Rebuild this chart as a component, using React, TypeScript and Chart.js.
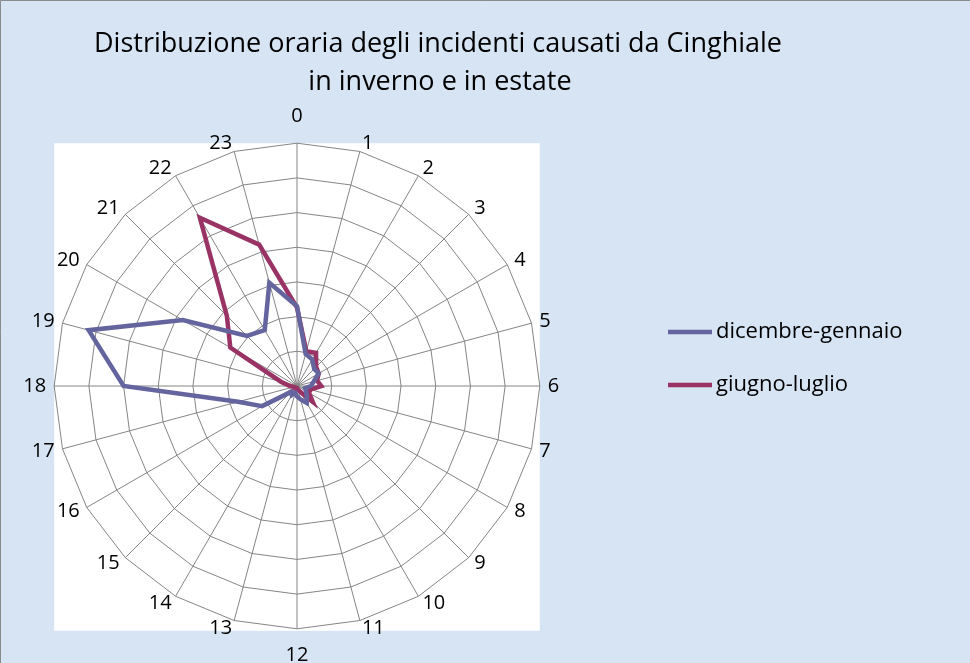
import { useEffect, useRef } from 'react';
import { Chart, registerables } from 'chart.js';

Chart.register(...registerables);

const hourLabels = ['0', '1', '2', '3', '4', '5', '6', '7', '8', '9', '10', '11', '12', '13', '14', '15', '16', '17', '18', '19', '20', '21', '22', '23'];
const winterValues = [11.5, 4.8, 4.4, 3.5, 3.6, 2.5, 2.0, 1.2, 1.5, 2.0, 2.8, 2.0, 1.5, 1.0, 1.5, 1.2, 5.8, 8.8, 25.0, 31.1, 19.0, 10.2, 9.3, 15.4];
const summerValues = [11.3, 5.2, 5.5, 3.9, 3.6, 3.0, 3.5, 2.0, 2.0, 3.2, 1.0, 0.5, 0.3, 0.3, 0.3, 0.5, 0.5, 0.5, 1.0, 2.4, 11.1, 14.3, 28.0, 21.1];
const seriesNames = ['dicembre-gennaio', 'giugno-luglio'];
const seriesColors = ['#64649f', '#993366'];
const titleLines = ['Distribuzione oraria degli incidenti causati da Cinghiale', 'in inverno e in estate'];
const scaleMax = 35;
const scaleStep = 5;

const FONT = '"Open Sans", "DejaVu Sans", sans-serif';

const decorPlugin = {
  id: 'decor',
  beforeDraw(chart: any) {
    const { ctx, width, height } = chart;
    const r = chart.scales.r;
    ctx.save();
    ctx.fillStyle = '#d6e4f3';
    ctx.fillRect(0, 0, width, height);
    ctx.strokeStyle = '#8a8a8a';
    ctx.lineWidth = 1;
    ctx.beginPath();
    ctx.moveTo(0.5, height);
    ctx.lineTo(0.5, 0.5);
    ctx.lineTo(width, 0.5);
    ctx.stroke();
    const R = r.drawingArea;
    ctx.fillStyle = '#ffffff';
    ctx.fillRect(r.xCenter - R, r.yCenter - R, 2 * R, 2 * R + 2);
    ctx.restore();
  },
  afterDraw(chart: any) {
    const { ctx } = chart;
    ctx.save();
    ctx.fillStyle = '#000';
    ctx.textBaseline = 'middle';
    ctx.textAlign = 'center';
    ctx.font = `27px ${FONT}`;
    ctx.fillText(titleLines[0], 438, 44);
    ctx.fillText(titleLines[1], 440, 82);
    ctx.textAlign = 'left';
    ctx.font = `22px ${FONT}`;
    const ys = [332, 385];
    chart.data.datasets.forEach((ds: any, i: number) => {
      ctx.strokeStyle = ds.borderColor;
      ctx.lineWidth = 4.5;
      ctx.beginPath();
      ctx.moveTo(668, ys[i]);
      ctx.lineTo(712, ys[i]);
      ctx.stroke();
      ctx.fillText(ds.label, 716, ys[i]);
    });
    ctx.restore();
  },
};

export default function App() {
  const canvasRef = useRef<HTMLCanvasElement | null>(null);

  useEffect(() => {
    const canvas = canvasRef.current;
    if (!canvas) return;
    const chart = new Chart(canvas, {
      type: 'radar',
      data: {
        labels: hourLabels,
        datasets: [
          {
            label: seriesNames[0],
            data: winterValues,
            borderColor: seriesColors[0],
            backgroundColor: seriesColors[0],
            borderWidth: 4.5,
            pointRadius: 0,
            fill: false,
            tension: 0,
          },
          {
            label: seriesNames[1],
            data: summerValues,
            borderColor: seriesColors[1],
            backgroundColor: seriesColors[1],
            borderWidth: 4.5,
            pointRadius: 0,
            fill: false,
            tension: 0,
          },
        ],
      },
      options: {
        responsive: false,
        animation: false,
        devicePixelRatio: 1,
        layout: { padding: { left: 1, right: 383, top: 116, bottom: 6 } },
        plugins: {
          legend: { display: false },
          title: { display: false },
          tooltip: { enabled: false },
        },
        scales: {
          r: {
            min: 0,
            max: scaleMax,
            ticks: { display: false, stepSize: scaleStep },
            grid: { color: '#858585', lineWidth: 1 },
            angleLines: { color: '#858585', lineWidth: 1 },
            pointLabels: {
              color: '#000',
              font: { family: FONT, size: 20, lineHeight: 0.01 },
              padding: (c: any) => (c.index === 0 ? 27 : c.index === 12 ? 26 : 8),
            },
          },
        },
      },
      plugins: [decorPlugin],
    });
    return () => chart.destroy();
  }, []);

  return (
    <div style={{ position: 'fixed', left: 0, top: 0, width: 970, height: 663 }}>
      <canvas ref={canvasRef} width={970} height={663} style={{ width: 970, height: 663, display: 'block' }} />
    </div>
  );
}
